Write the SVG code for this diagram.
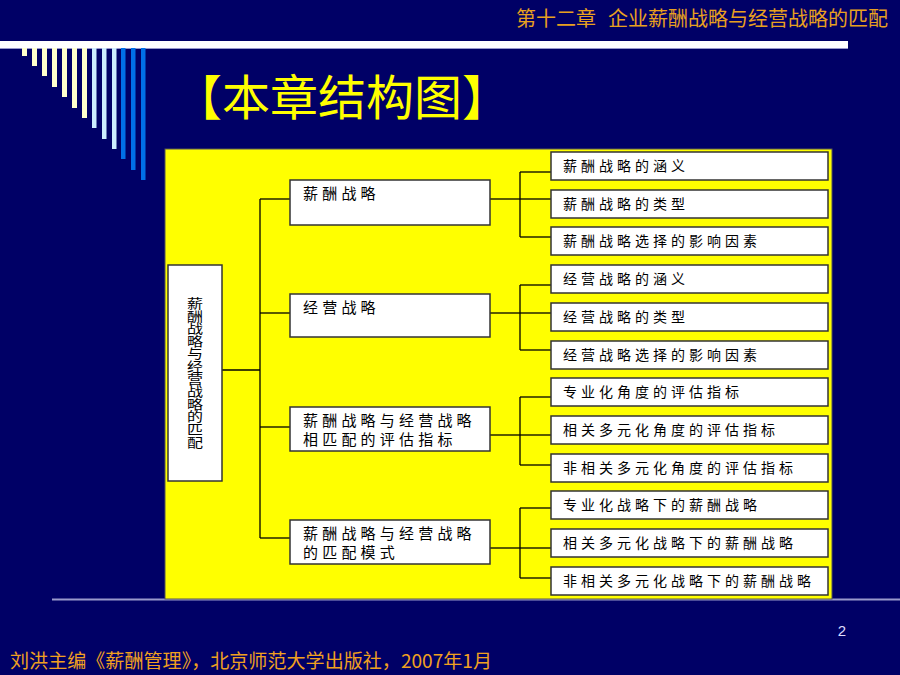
<svg xmlns="http://www.w3.org/2000/svg" width="900" height="675" viewBox="0 0 900 675">
<style>
.cjk{font-family:"Noto Sans CJK SC","Noto Sans",sans-serif}
.box{fill:#FFFFFF;stroke:#333333;stroke-width:1.5}
.lt{font-size:14px;letter-spacing:4px;fill:#000}
.mt{font-size:15px;letter-spacing:4.2px;fill:#000}
.hdr{font-size:20px;fill:#E8A020}
.cn line{stroke:#000;stroke-width:1.3}
</style>
<rect x="0" y="0" width="900" height="675" fill="#000066"/>
<!-- header -->
<text class="cjk hdr" x="516" y="26">第十二章</text>
<text class="cjk hdr" x="888" y="26" text-anchor="end">企业薪酬战略与经营战略的匹配</text>
<rect x="0" y="41" width="848" height="7" fill="#FFFFFF"/>
<line x1="0" y1="48.5" x2="848" y2="48.5" stroke="#9999CC" stroke-width="1"/>
<!-- decoration bars -->
<g id="bars">
<rect x="22" y="48" width="5" height="8" fill="#FFFFCC"/>
<rect x="32" y="48" width="5" height="18" fill="#FFFFCC"/>
<rect x="42" y="48" width="5" height="28" fill="#FFFFCC"/>
<rect x="52" y="48" width="5" height="39" fill="#FFFFCC"/>
<rect x="62" y="48" width="5" height="49" fill="#FFFFCC"/>
<rect x="72" y="48" width="5" height="60" fill="#FFFFCC"/>
<rect x="82" y="48" width="5" height="70" fill="#FFFFCC"/>
<rect x="92" y="48" width="4.5" height="80" fill="#CCECFF"/>
<rect x="102" y="48" width="4.5" height="91" fill="#CCECFF"/>
<rect x="112" y="48" width="4.5" height="101" fill="#CCECFF"/>
<rect x="121" y="48" width="4.5" height="111" fill="#0070E8"/>
<rect x="131" y="48" width="4.5" height="122" fill="#0070E8"/>
<rect x="141" y="48" width="4.5" height="132" fill="#0070E8"/>
</g>
<!-- title -->
<text class="cjk" x="174" y="115" font-size="48" fill="#FFFF00">【本章结构图】</text>
<!-- bottom line -->
<line x1="52" y1="599.5" x2="900" y2="599.5" stroke="#9999CC" stroke-width="2"/>
<!-- panel -->
<rect x="165" y="149" width="667" height="450" fill="#FFFF00" stroke="#555555" stroke-width="1"/>
<!-- connectors -->
<g id="connectors" class="cn">
<line x1="222" y1="370" x2="260" y2="370"/>
<line x1="260" y1="199" x2="260" y2="538"/>
<line x1="260" y1="199" x2="290" y2="199"/>
<line x1="260" y1="313" x2="290" y2="313"/>
<line x1="260" y1="427" x2="290" y2="427"/>
<line x1="260" y1="538" x2="290" y2="538"/>
<line x1="490" y1="199" x2="520" y2="199"/>
<line x1="490" y1="313" x2="520" y2="313"/>
<line x1="490" y1="435" x2="520" y2="435"/>
<line x1="490" y1="548" x2="520" y2="548"/>
<line x1="520" y1="172" x2="520" y2="237"/>
<line x1="520" y1="285" x2="520" y2="350"/>
<line x1="520" y1="397" x2="520" y2="465"/>
<line x1="520" y1="508" x2="520" y2="578"/>
<line x1="520" y1="172" x2="551" y2="172"/>
<line x1="520" y1="199" x2="551" y2="199"/>
<line x1="520" y1="237" x2="551" y2="237"/>
<line x1="520" y1="285" x2="551" y2="285"/>
<line x1="520" y1="313" x2="551" y2="313"/>
<line x1="520" y1="350" x2="551" y2="350"/>
<line x1="520" y1="397" x2="551" y2="397"/>
<line x1="520" y1="435" x2="551" y2="435"/>
<line x1="520" y1="465" x2="551" y2="465"/>
<line x1="520" y1="508" x2="551" y2="508"/>
<line x1="520" y1="548" x2="551" y2="548"/>
<line x1="520" y1="578" x2="551" y2="578"/>
</g>
<!-- root node -->
<g id="root">
<rect class="box" x="168" y="265" width="54" height="216"/>
<text class="cjk" transform="translate(195,297) scale(1.27,1)" x="0" y="0" font-size="12.6" writing-mode="vertical-rl" fill="#000">薪酬战略与经营战略的匹配</text>
</g>
<!-- middle nodes -->
<g id="m1"><rect class="box" x="290" y="180" width="200" height="45"/><text class="cjk mt" x="303" y="199">薪酬战略</text></g>
<g id="m2"><rect class="box" x="290" y="294" width="200" height="43"/><text class="cjk mt" x="303" y="313">经营战略</text></g>
<g id="m3"><rect class="box" x="290" y="407" width="200" height="44"/><text class="cjk mt" x="303" y="426">薪酬战略与经营战略</text><text class="cjk mt" x="303" y="445">相匹配的评估指标</text></g>
<g id="m4"><rect class="box" x="290" y="520" width="200" height="44"/><text class="cjk mt" x="303" y="539">薪酬战略与经营战略</text><text class="cjk mt" x="303" y="558">的匹配模式</text></g>
<!-- leaves -->
<g id="l1"><rect class="box" x="551" y="152" width="277" height="28"/><text class="cjk lt" x="563" y="171">薪酬战略的涵义</text></g>
<g id="l2"><rect class="box" x="551" y="190" width="277" height="28"/><text class="cjk lt" x="563" y="209">薪酬战略的类型</text></g>
<g id="l3"><rect class="box" x="551" y="227" width="277" height="28"/><text class="cjk lt" x="563" y="246">薪酬战略选择的影响因素</text></g>
<g id="l4"><rect class="box" x="551" y="265" width="277" height="28"/><text class="cjk lt" x="563" y="284">经营战略的涵义</text></g>
<g id="l5"><rect class="box" x="551" y="303" width="277" height="28"/><text class="cjk lt" x="563" y="322">经营战略的类型</text></g>
<g id="l6"><rect class="box" x="551" y="341" width="277" height="28"/><text class="cjk lt" x="563" y="360">经营战略选择的影响因素</text></g>
<g id="l7"><rect class="box" x="551" y="378" width="277" height="28"/><text class="cjk lt" x="563" y="397">专业化角度的评估指标</text></g>
<g id="l8"><rect class="box" x="551" y="416" width="277" height="28"/><text class="cjk lt" x="563" y="435">相关多元化角度的评估指标</text></g>
<g id="l9"><rect class="box" x="551" y="454" width="277" height="28"/><text class="cjk lt" x="563" y="473">非相关多元化角度的评估指标</text></g>
<g id="l10"><rect class="box" x="551" y="491" width="277" height="28"/><text class="cjk lt" x="563" y="510">专业化战略下的薪酬战略</text></g>
<g id="l11"><rect class="box" x="551" y="529" width="277" height="28"/><text class="cjk lt" x="563" y="548">相关多元化战略下的薪酬战略</text></g>
<g id="l12"><rect class="box" x="551" y="567" width="277" height="28"/><text class="cjk lt" x="563" y="586">非相关多元化战略下的薪酬战略</text></g>
<!-- page number & footer -->
<text x="842" y="636" font-family="Liberation Sans, Arial, sans-serif" font-size="15" fill="#DDDDFF" text-anchor="middle">2</text>
<text class="cjk" x="10" y="668" font-size="19" fill="#F0A020" textLength="482" lengthAdjust="spacingAndGlyphs">刘洪主编《薪酬管理》，北京师范大学出版社，2007年1月</text>
</svg>
